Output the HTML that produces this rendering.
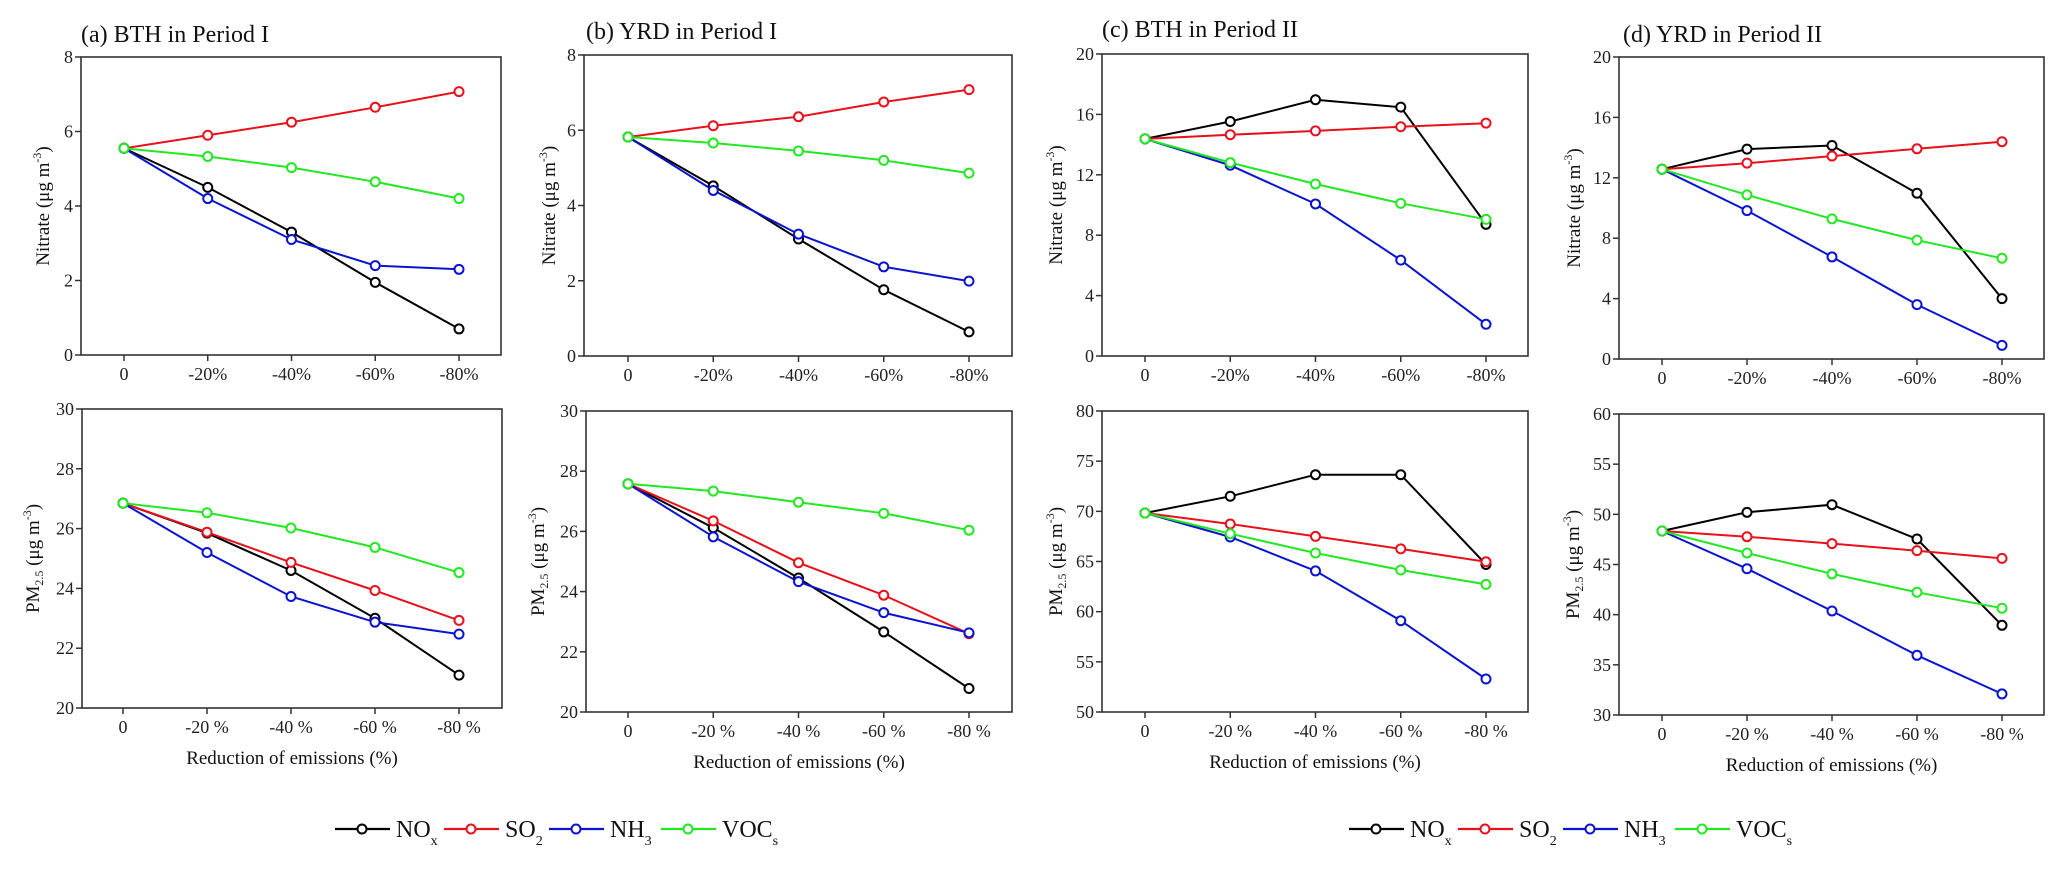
<!DOCTYPE html>
<html><head><meta charset="utf-8">
<style>
html,body{margin:0;padding:0;background:#fff;}
svg{display:block;font-family:"Liberation Serif",serif;}
</style></head>
<body>
<svg id="fig" width="2067" height="870" viewBox="0 0 2067 870" xmlns="http://www.w3.org/2000/svg"></svg>
<script>
const categories = ["0","-20%","-40%","-60%","-80%"];
const seriesNames = ["NOx","SO2","NH3","VOCs"];
const seriesColors = ["#000000","#e8101a","#0a14d0","#22e822"];

// Nitrate values (top row)
const nitA_NOx=[5.55,4.5,3.3,1.95,0.7], nitA_SO2=[5.55,5.9,6.25,6.65,7.07], nitA_NH3=[5.55,4.2,3.1,2.4,2.3], nitA_VOC=[5.55,5.33,5.03,4.65,4.2];
const nitB_NOx=[5.82,4.52,3.11,1.76,0.64], nitB_SO2=[5.82,6.12,6.36,6.75,7.08], nitB_NH3=[5.82,4.4,3.24,2.37,1.99], nitB_VOC=[5.82,5.66,5.45,5.2,4.86];
const nitC_NOx=[14.38,15.53,16.97,16.48,8.72], nitC_SO2=[14.38,14.65,14.91,15.18,15.42], nitC_NH3=[14.38,12.63,10.07,6.35,2.1], nitC_VOC=[14.38,12.81,11.39,10.11,9.05];
const nitD_NOx=[12.57,13.9,14.14,10.98,4.0], nitD_SO2=[12.57,12.97,13.44,13.92,14.39], nitD_NH3=[12.57,9.83,6.76,3.6,0.9], nitD_VOC=[12.57,10.87,9.28,7.87,6.67];
// PM2.5 values (bottom row)
const pmA_NOx=[26.85,25.85,24.6,23.0,21.1], pmA_SO2=[26.85,25.88,24.87,23.93,22.93], pmA_NH3=[26.85,25.2,23.73,22.87,22.47], pmA_VOC=[26.85,26.53,26.02,25.37,24.53];
const pmB_NOx=[27.58,26.12,24.45,22.66,20.78], pmB_SO2=[27.58,26.35,24.96,23.88,22.6], pmB_NH3=[27.58,25.82,24.33,23.3,22.63], pmB_VOC=[27.58,27.34,26.97,26.6,26.04];
const pmC_NOx=[69.83,71.5,73.65,73.65,64.7], pmC_SO2=[69.83,68.74,67.5,66.26,64.97], pmC_NH3=[69.83,67.44,64.06,59.1,53.29], pmC_VOC=[69.83,67.77,65.85,64.15,62.72];
const pmD_NOx=[48.34,50.2,50.96,47.54,38.94], pmD_SO2=[48.34,47.77,47.08,46.38,45.61], pmD_NH3=[48.34,44.58,40.37,35.95,32.1], pmD_VOC=[48.34,46.15,44.06,42.23,40.64];

const ticksNitAB=[0,2,4,6,8], ticksNitCD=[0,4,8,12,16,20];
const ticksPmAB=[20,22,24,26,28,30], ticksPmC=[50,55,60,65,70,75,80], ticksPmD=[30,35,40,45,50,55,60];
const titles=["(a) BTH in Period I","(b) YRD in Period I","(c) BTH in Period II","(d) YRD in Period II"];

const NS="http://www.w3.org/2000/svg";
const svg=document.getElementById('fig');
function mk(tag,attrs,parent,text){const e=document.createElementNS(NS,tag);for(const k in attrs)e.setAttribute(k,attrs[k]);if(text!==undefined)e.textContent=text;(parent||svg).appendChild(e);return e;}

const panels=[
 {id:"a-nitrate",x0:81,x1:501,y0:57,y1:355,p0:124,p4:459,ticks:ticksNitAB,data:[nitA_NOx,nitA_SO2,nitA_NH3,nitA_VOC],pm:false,ylx:43,title:0,tx:81,ty:42,pct:"%"},
 {id:"b-nitrate",x0:584,x1:1012,y0:55,y1:356,p0:628,p4:969,ticks:ticksNitAB,data:[nitB_NOx,nitB_SO2,nitB_NH3,nitB_VOC],pm:false,ylx:549,title:1,tx:586,ty:39,pct:"%"},
 {id:"c-nitrate",x0:1102,x1:1528,y0:54,y1:356,p0:1145,p4:1486,ticks:ticksNitCD,data:[nitC_NOx,nitC_SO2,nitC_NH3,nitC_VOC],pm:false,ylx:1056,title:2,tx:1102,ty:37,pct:"%"},
 {id:"d-nitrate",x0:1619,x1:2044,y0:57,y1:359,p0:1662,p4:2002,ticks:ticksNitCD,data:[nitD_NOx,nitD_SO2,nitD_NH3,nitD_VOC],pm:false,ylx:1574,title:3,tx:1623,ty:42,pct:"%"},
 {id:"a-pm25",x0:82,x1:502,y0:409,y1:708,p0:123,p4:459,ticks:ticksPmAB,data:[pmA_NOx,pmA_SO2,pmA_NH3,pmA_VOC],pm:true,ylx:33,pct:" %"},
 {id:"b-pm25",x0:586,x1:1012,y0:411,y1:712,p0:628,p4:969,ticks:ticksPmAB,data:[pmB_NOx,pmB_SO2,pmB_NH3,pmB_VOC],pm:true,ylx:538,pct:" %"},
 {id:"c-pm25",x0:1102,x1:1528,y0:411,y1:712,p0:1145,p4:1486,ticks:ticksPmC,data:[pmC_NOx,pmC_SO2,pmC_NH3,pmC_VOC],pm:true,ylx:1056,pct:" %"},
 {id:"d-pm25",x0:1619,x1:2044,y0:414,y1:715,p0:1662,p4:2002,ticks:ticksPmD,data:[pmD_NOx,pmD_SO2,pmD_NH3,pmD_VOC],pm:true,ylx:1573,pct:" %"}
];

panels.forEach(p=>{
  const g=mk('g',{});
  
  
  const tmin=p.ticks[0], tmax=p.ticks[p.ticks.length-1];
  const ys=v=>p.y1-(v-tmin)/(tmax-tmin)*(p.y1-p.y0);
  const xs=i=>p.p0+i*(p.p4-p.p0)/(categories.length-1);
  if(p.title!==undefined){
    const t=mk('text',{x:p.tx,y:p.ty,'font-size':24,fill:'#111'},g,titles[p.title]);
    
    
  }
  const frame=mk('rect',{x:p.x0,y:p.y0,width:p.x1-p.x0,height:p.y1-p.y0,fill:'none',stroke:'#333','stroke-width':1.6},g);
  
  
  p.ticks.forEach(v=>{
    const y=ys(v);
    mk('line',{x1:p.x0-6,x2:p.x0,y1:y,y2:y,stroke:'#333','stroke-width':1.5},g);
    const tl=mk('text',{x:p.x0-8,y:y+6,'font-size':18,'text-anchor':'end',fill:'#222'},g,String(v));
    
    
  });
  categories.forEach((c,i)=>{
    const x=xs(i);
    mk('line',{x1:x,x2:x,y1:p.y1,y2:p.y1+6,stroke:'#333','stroke-width':1.5},g);
    const lab=i===0?"0":c.replace('%',p.pct);
    const tl=mk('text',{x:x,y:p.y1+25,'font-size':18,'text-anchor':'middle',fill:'#222'},g,lab);
    
    
  });
  const cy=(p.y0+p.y1)/2;
  const yt=mk('text',{x:p.ylx,y:cy,'font-size':19,'text-anchor':'middle',fill:'#111',transform:`rotate(-90 ${p.ylx} ${cy})`,dy:6},g);
  
  
  if(p.pm){
    mk('tspan',{},yt,'PM');
    mk('tspan',{'font-size':12,dy:4},yt,'2.5');
    mk('tspan',{dy:-4},yt,' (μg m');
  } else {
    mk('tspan',{},yt,'Nitrate (μg m');
  }
  mk('tspan',{'font-size':12,dy:-8},yt,'-3');
  mk('tspan',{dy:8},yt,')');
  if(p.pm){
    const xt=mk('text',{x:(p.x0+p.x1)/2,y:p.y1+56,'font-size':19,'text-anchor':'middle',fill:'#111'},g,'Reduction of emissions (%)');
    
    
  }
  p.data.forEach((vals,si)=>{
    const pts=vals.map((v,i)=>xs(i).toFixed(1)+','+ys(v).toFixed(1)).join(' ');
    const pl=mk('polyline',{points:pts,fill:'none',stroke:seriesColors[si],'stroke-width':2},g);
    
    
  });
  p.data.forEach((vals,si)=>{
    vals.forEach((v,i)=>{
      const c=mk('circle',{cx:xs(i),cy:ys(v),r:4.5,fill:'#fff',stroke:seriesColors[si],'stroke-width':2},g);
      
      
    });
  });
});

const legendLabels=[["NO","x"],["SO","2"],["NH","3"],["VOC","s"]];
[0,1014].forEach((off,li)=>{
  const g=mk('g',{});
  
  
  const starts=[335,444,549,661];
  starts.forEach((sx,i)=>{
    const e=mk('g',{},g);
    
    
    const x=sx+off,y=829;
    mk('line',{x1:x,x2:x+55,y1:y,y2:y,stroke:seriesColors[i],'stroke-width':2.2},e);
    mk('circle',{cx:x+27,cy:y,r:4.5,fill:'#fff',stroke:seriesColors[i],'stroke-width':2},e);
    const t=mk('text',{x:x+61,y:y+8,'font-size':24,fill:'#111'},e,legendLabels[i][0]);
    mk('tspan',{'font-size':14,dy:8},t,legendLabels[i][1]);
  });
});
</script>
</body></html>
